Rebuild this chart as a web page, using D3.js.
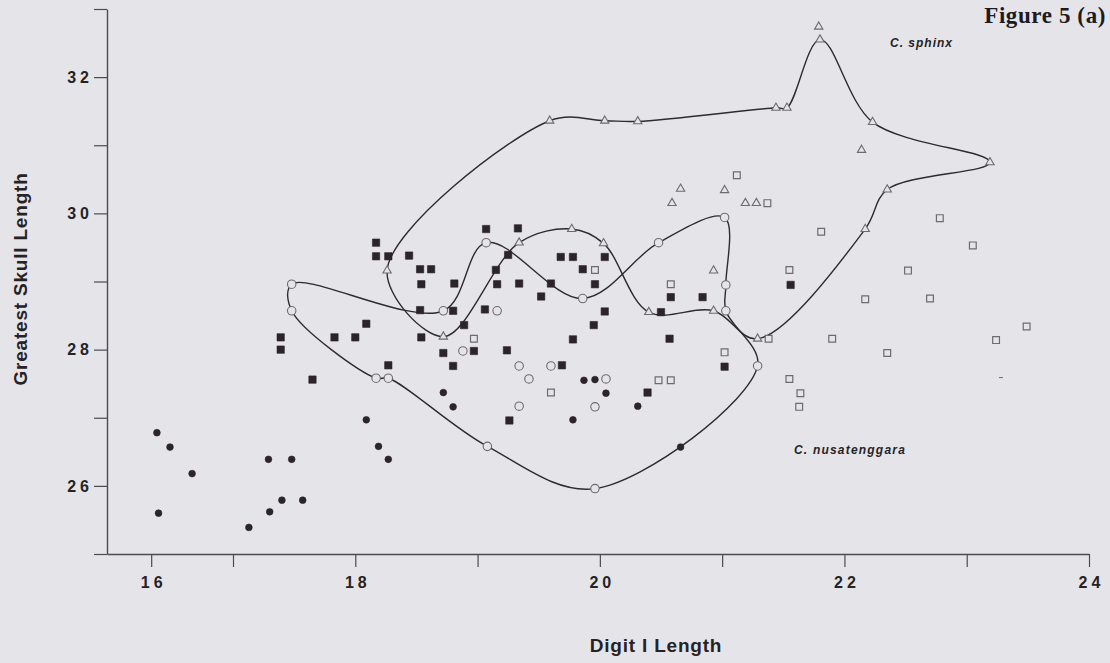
<!DOCTYPE html>
<html>
<head>
<meta charset="utf-8">
<script src="https://cdn.jsdelivr.net/npm/d3@7"></script>
<style>
  html, body { margin: 0; padding: 0; background: #e5e5e9; }
  svg { display: block; }
</style>
</head>
<body>
<svg id="chart" width="1110" height="663"></svg>
<script>
// Digit I length against greatest skull length for five specimen groups,
// with hand-drawn outlines around the C. sphinx and open-circle groups.

const xTicks = [16, 17, 18, 19, 20, 21, 22, 23, 24];
const yTicks = [25, 26, 27, 28, 29, 30, 31, 32, 33];
const xLabelled = [16, 18, 20, 22, 24];
const yLabelled = [26, 28, 30, 32];

const xTitle = "Digit I Length";
const yTitle = "Greatest Skull Length";
const figureTitle = "Figure 5 (a)";
const labelSphinx = "C. sphinx";
const labelNusa = "C. nusatenggara";

// [digit I length, greatest skull length]
const filledCircles = [
  [16.07, 26.78], [16.23, 26.57], [16.50, 26.18], [16.09, 25.60],
  [17.13, 25.39], [17.29, 26.39], [17.48, 26.39], [17.30, 25.62],
  [17.40, 25.79], [17.57, 25.79], [18.09, 26.97], [18.19, 26.58],
  [18.27, 26.39], [18.72, 27.37], [18.80, 27.16], [19.87, 27.55],
  [19.96, 27.56], [20.05, 27.36], [19.78, 26.97], [20.31, 27.17],
  [20.66, 26.57]
];

const filledSquares = [
  [17.39, 28.18], [17.39, 28.00], [17.65, 27.56], [17.83, 28.18],
  [18.00, 28.18], [18.09, 28.38], [18.27, 27.77], [18.17, 29.37],
  [18.27, 29.37], [18.17, 29.57], [18.44, 29.38], [18.53, 29.18],
  [18.62, 29.18], [18.54, 28.96], [18.81, 28.97], [18.53, 28.58],
  [18.80, 28.57], [18.89, 28.36], [18.54, 28.18], [18.72, 27.95],
  [18.80, 27.76], [19.07, 29.77], [19.33, 29.78], [19.25, 29.39],
  [19.15, 29.17], [19.16, 28.96], [19.34, 28.97], [19.06, 28.59],
  [19.52, 28.78], [19.60, 28.97], [19.68, 29.36], [19.78, 29.36],
  [19.86, 29.18], [20.04, 29.36], [19.96, 28.96], [20.04, 28.56],
  [19.95, 28.36], [19.78, 28.15], [18.97, 27.98], [19.24, 27.99],
  [19.69, 27.77], [19.26, 26.96], [20.58, 28.77], [20.84, 28.77],
  [20.57, 28.16], [21.02, 27.75], [20.39, 27.37], [20.50, 28.55],
  [21.56, 28.95]
];

const openCircles = [
  [17.48, 28.96], [17.48, 28.57], [18.17, 27.58], [18.27, 27.58],
  [18.72, 28.57], [19.07, 29.57], [19.16, 28.57], [19.86, 28.75],
  [20.48, 29.57], [21.02, 29.94], [21.03, 28.95], [21.03, 28.57],
  [21.29, 27.76], [18.88, 27.98], [19.34, 27.76], [19.42, 27.57],
  [19.60, 27.76], [20.05, 27.57], [19.34, 27.17], [19.96, 27.16],
  [19.08, 26.58], [19.96, 25.96]
];

const openTriangles = [
  [18.26, 29.16], [18.72, 28.19], [19.34, 29.57], [19.77, 29.77],
  [20.03, 29.56], [20.40, 28.55], [20.93, 28.57], [20.93, 29.16],
  [21.29, 28.16], [19.59, 31.36], [20.04, 31.36], [20.31, 31.35],
  [21.44, 31.55], [21.53, 31.55], [21.79, 32.74], [21.80, 32.55],
  [22.23, 31.34], [22.14, 30.93], [23.19, 30.75], [22.35, 30.35],
  [22.17, 29.77], [20.66, 30.36], [21.02, 30.34], [20.59, 30.15],
  [21.19, 30.15], [21.28, 30.15]
];

const openSquares = [
  [19.96, 29.17], [20.58, 28.96], [18.97, 28.16], [21.02, 27.96],
  [20.48, 27.55], [20.58, 27.55], [19.60, 27.37], [21.55, 29.17],
  [22.52, 29.16], [22.17, 28.74], [22.70, 28.75], [23.49, 28.34],
  [23.24, 28.14], [21.38, 28.16], [21.90, 28.16], [22.35, 27.95],
  [21.55, 27.57], [21.64, 27.36], [21.63, 27.16], [21.12, 30.56],
  [21.37, 30.15], [22.78, 29.93], [21.81, 29.73], [23.05, 29.53]
];

const strayMarks = [[23.28, 27.59]];

// Outline vertices, in drawing order (closed)
const sphinxOutline = [
  [18.26, 29.16], [19.59, 31.36], [20.04, 31.36], [20.31, 31.35],
  [21.44, 31.55], [21.53, 31.55], [21.80, 32.55], [22.23, 31.34],
  [23.19, 30.75], [22.35, 30.35], [22.17, 29.77], [21.29, 28.16],
  [20.93, 28.57], [20.40, 28.55], [20.03, 29.56], [19.77, 29.77],
  [19.34, 29.57], [18.72, 28.19]
];

const circleOutline = [
  [17.48, 28.96], [18.72, 28.57], [19.07, 29.57], [19.86, 28.75],
  [20.48, 29.57], [21.02, 29.94], [21.03, 28.95], [21.03, 28.57],
  [21.29, 27.76], [19.96, 25.96], [19.08, 26.58], [18.27, 27.58],
  [18.17, 27.58], [17.48, 28.57]
];

const BG = "#e5e5e9";
const INK = "#2b2429";
const AXIS = "#4d4a50";
const OPEN = "#6d6a70";
const TEXT = "#262226";
const SANS = "'Liberation Sans', Arial, sans-serif";

const svg = d3.select("#chart");
svg.append("rect").attr("width", 1110).attr("height", 663).attr("fill", BG);

// The printed axis is compressed between 16 and 17, so the scale is piecewise.
const x = d3.scaleLinear().domain([15.46, 17, 24]).range([107, 233, 1089]);
const y = d3.scaleLinear().domain([25, 33]).range([554, 9]);

// Axes
const xAxis = d3.axisBottom(x)
  .tickValues(xTicks)
  .tickSize(13)
  .tickSizeOuter(0)
  .tickPadding(10)
  .tickFormat(d => xLabelled.includes(d) ? d : "");

const yAxis = d3.axisLeft(y)
  .tickValues(yTicks)
  .tickSize(13)
  .tickSizeOuter(0)
  .tickPadding(1)
  .tickFormat(d => yLabelled.includes(d) ? d : "");

const gx = svg.append("g").attr("transform", `translate(0,${y(25)})`).call(xAxis);
const gy = svg.append("g").attr("transform", `translate(${x(15.46)},0)`).call(yAxis);

[gx, gy].forEach(g => {
  g.selectAll("path.domain").attr("stroke", AXIS).attr("stroke-width", 1.4);
  g.selectAll(".tick line").attr("stroke", AXIS).attr("stroke-width", 1.2);
  g.selectAll(".tick text")
    .attr("fill", TEXT)
    .style("font-family", SANS)
    .style("font-weight", "bold")
    .style("font-size", "16px")
    .style("letter-spacing", "4px");
});
gx.selectAll(".tick text").attr("dx", "2px");

// Axis titles
svg.append("text")
  .attr("x", 656).attr("y", 652)
  .attr("text-anchor", "middle")
  .attr("fill", TEXT)
  .style("font-family", SANS)
  .style("font-weight", "bold")
  .style("font-size", "19px")
  .style("letter-spacing", "0.8px")
  .text(xTitle);

svg.append("text")
  .attr("transform", "translate(27,279) rotate(-90)")
  .attr("text-anchor", "middle")
  .attr("fill", TEXT)
  .style("font-family", SANS)
  .style("font-weight", "bold")
  .style("font-size", "19px")
  .style("letter-spacing", "0.8px")
  .text(yTitle);

svg.append("text")
  .attr("x", 1106).attr("y", 23)
  .attr("text-anchor", "end")
  .attr("fill", "#1e1a1e")
  .style("font-family", "'Liberation Serif', 'Times New Roman', serif")
  .style("font-weight", "bold")
  .style("font-size", "23px")
  .style("letter-spacing", "0.6px")
  .text(figureTitle);

svg.append("text")
  .attr("x", 890).attr("y", 47)
  .attr("fill", TEXT)
  .style("font-family", SANS)
  .style("font-weight", "bold")
  .style("font-style", "italic")
  .style("font-size", "12px")
  .style("letter-spacing", "1px")
  .text(labelSphinx);

svg.append("text")
  .attr("x", 794).attr("y", 454)
  .attr("fill", TEXT)
  .style("font-family", SANS)
  .style("font-weight", "bold")
  .style("font-style", "italic")
  .style("font-size", "12px")
  .style("letter-spacing", "1.2px")
  .text(labelNusa);

// Outlines
const outline = d3.line()
  .x(d => x(d[0]))
  .y(d => y(d[1]))
  .curve(d3.curveCatmullRomClosed.alpha(0.5));

[sphinxOutline, circleOutline].forEach(pts => {
  svg.append("path")
    .attr("d", outline(pts))
    .attr("fill", "none")
    .attr("stroke", "#2e2a2e")
    .attr("stroke-width", 1.4);
});

// Markers
const marks = svg.append("g");
function plot(data, type, size, fill, stroke, sw) {
  marks.append("g").selectAll("path")
    .data(data)
    .join("path")
    .attr("transform", d => `translate(${x(d[0])},${y(d[1])})`)
    .attr("d", d3.symbol().type(type).size(size))
    .attr("fill", fill)
    .attr("stroke", stroke)
    .attr("stroke-width", sw);
}

plot(openCircles, d3.symbolCircle, 56, BG, OPEN, 1.1);
plot(openTriangles, d3.symbolTriangle, 30, BG, OPEN, 1.1);
plot(openSquares, d3.symbolSquare, 46, BG, OPEN, 1.2);
plot(filledSquares, d3.symbolSquare, 54, INK, INK, 0.6);
plot(filledCircles, d3.symbolCircle, 36, INK, INK, 0.6);

marks.append("g").selectAll("line")
  .data(strayMarks)
  .join("line")
  .attr("x1", d => x(d[0]) - 2).attr("x2", d => x(d[0]) + 2)
  .attr("y1", d => y(d[1])).attr("y2", d => y(d[1]))
  .attr("stroke", OPEN).attr("stroke-width", 1);
</script>
</body>
</html>
